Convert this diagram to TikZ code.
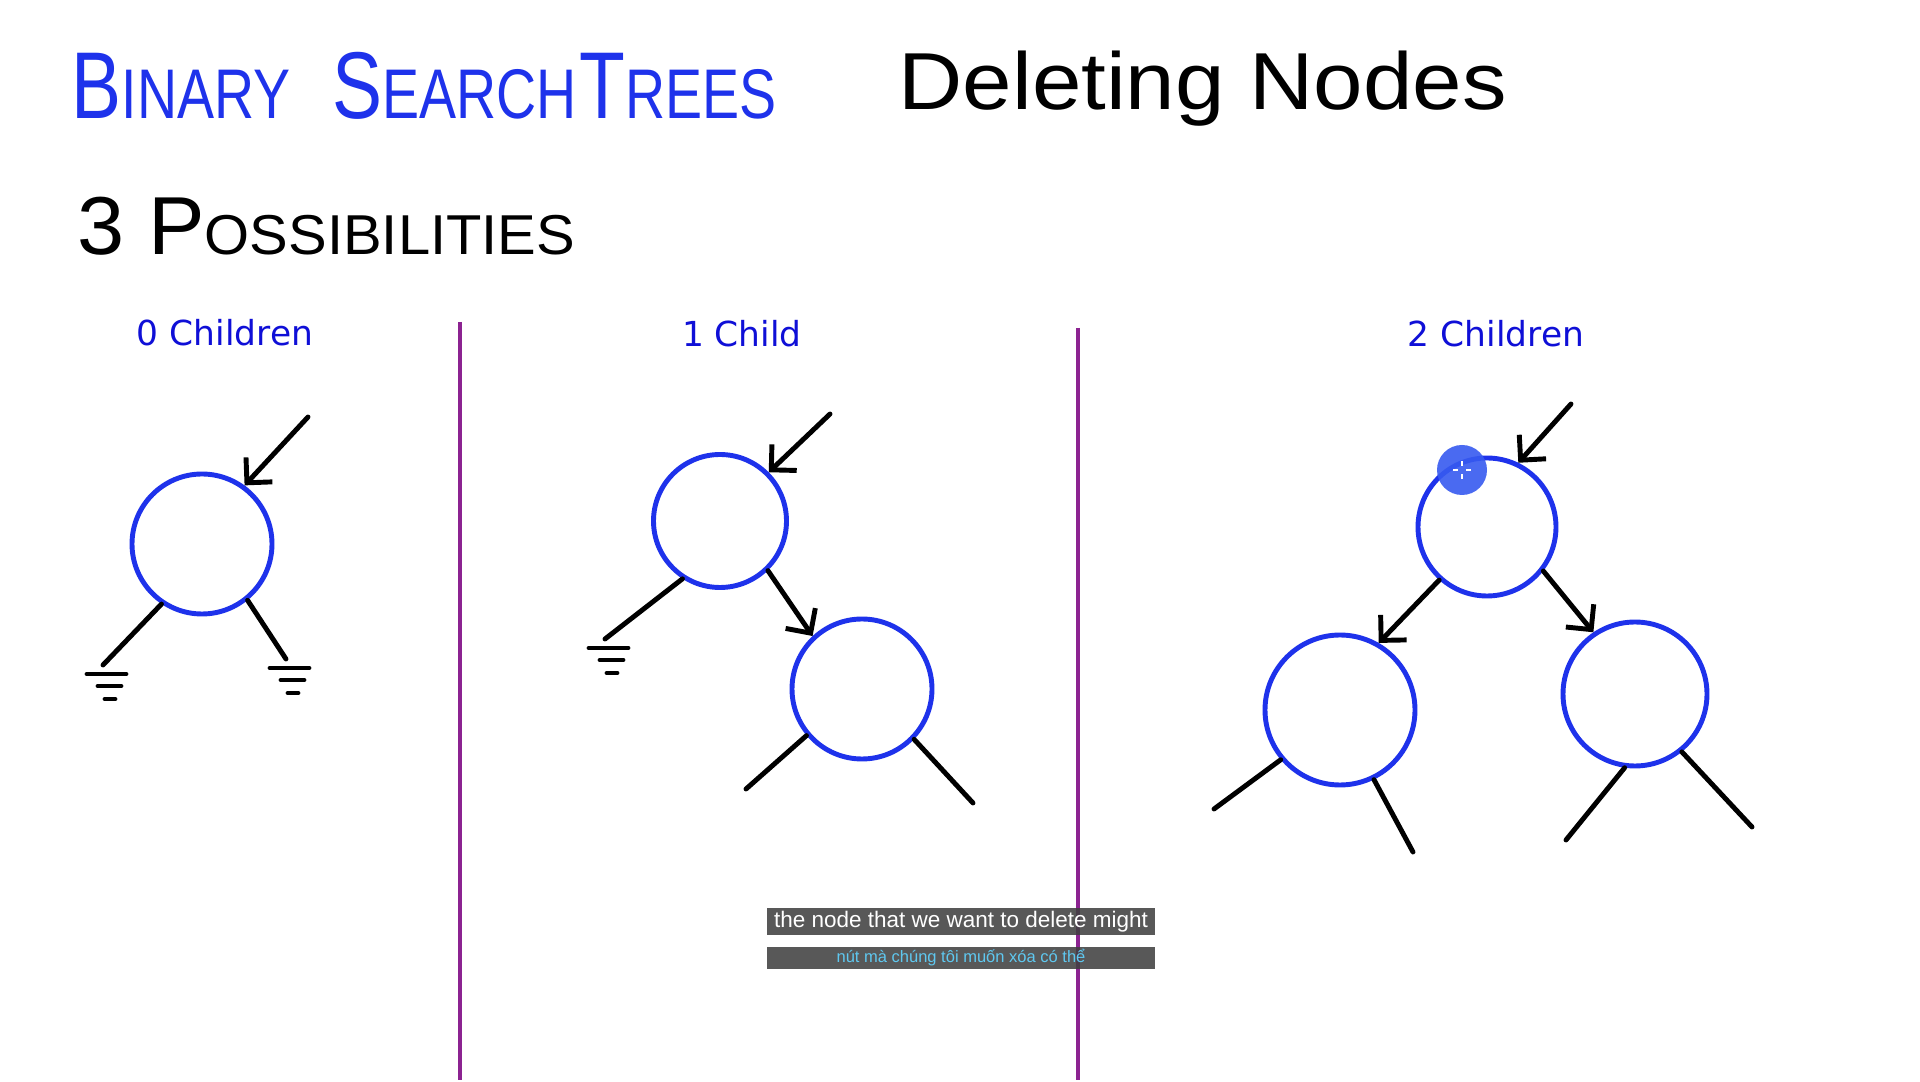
\documentclass[tikz,border=0pt]{standalone}
\usepackage{fontspec}
\setmainfont{Liberation Sans}
\newfontfamily\etiq{DejaVu Sans}
\usepackage{graphicx}
\usepackage{xcolor}
\usepackage{tikz}
\usetikzlibrary{arrows.meta}
\definecolor{azul}{RGB}{30,50,235}
\definecolor{azuloscuro}{RGB}{15,15,215}
\definecolor{morado}{RGB}{140,35,145}
\definecolor{celeste}{RGB}{95,200,240}
\definecolor{puntero}{RGB}{55,90,240}
\newcommand{\grande}[2]{{\fontsize{#1}{#1}\selectfont #2}}
\tikzset{
  nodo/.style={circle, draw=azul, line width=1.4pt, inner sep=0pt, minimum size=#1},
  rama/.style={black, line width=1.4pt, line cap=round},
  flecha/.style={rama, -{Straight Barb[length=1.8mm, width=3.6mm]}},
  separador/.style={morado, line width=0.9pt},
  etiqueta/.style={azuloscuro, font=\etiq\fontsize{9.8}{11}\selectfont, anchor=base, inner sep=0pt},
  subtitulo/.style={fill=black!75, fill opacity=0.87, text opacity=1, inner sep=0pt, minimum width=38.8mm},
  tierra/.pic={\draw[rama] (-16,9) -- (23,9) (-5,21) -- (18,21) (2,34) -- (12,34);},
}

\begin{document}
\begin{tikzpicture}[x=0.1mm, y=-0.1mm]
  \fill[white] (0,0) rectangle (1920,1080);
  \node[azul, anchor=base west, inner sep=0pt, font=\fontsize{20}{20}\selectfont] (titulo) at (71,119)
    {\scalebox{0.79}[1]{\grande{27pt}{B}INARY\hspace{15pt}\grande{27pt}{S}EARCH\hspace{1pt}\grande{27pt}{T}REES}};
  \node[anchor=base west, inner sep=0pt, font=\fontsize{23}{24}\selectfont] (tema) at (898,110)
    {\scalebox{1.1}[1]{Deleting Nodes}};
  \node[anchor=base west, inner sep=0pt, font=\fontsize{16}{16}\selectfont] (casos) at (77,255)
    {\scalebox{1.03}[1]{\grande{23.4pt}{3 P}OSSIBILITIES}};
  \node[etiqueta] (l0) at (225,346) {0 Children};
  \node[etiqueta] (l1) at (742,347) {1 Child};
  \node[etiqueta] (l2) at (1496,347) {2 Children};
  \draw[separador] (460,322) -- (460,1080);
  \draw[separador] (1078,328) -- (1078,1080);

  % 0 hijos
  \node[nodo=14mm] (a) at (202,544) {};
  \coordinate (a0) at (308,417);
  \coordinate (a1) at (103,665);
  \coordinate (a2) at (286,659);
  \draw[flecha] (a0) -- (a.54);
  \draw[rama] (a.236) -- (a1); \draw[rama] (a.309) -- (a2);
  \pic at (a1) {tierra}; \pic at (a2) {tierra};

  % 1 hijo
  \node[nodo=13.3mm] (b) at (720,521) {};
  \node[nodo=14mm] (c) at (862,689) {};
  \coordinate (b0) at (830,414);
  \coordinate (b1) at (605,639);
  \coordinate (c1) at (746,789);
  \coordinate (c2) at (973,803);
  \draw[flecha] (b0) -- (b.45);
  \draw[rama] (b.237) -- (b1); \pic at (b1) {tierra};
  \draw[flecha] (b.314) -- (c.133);
  \draw[rama] (c.220) -- (c1); \draw[rama] (c.316) -- (c2);

  % 2 hijos
  \node[nodo=13.8mm] (d) at (1487,527) {};
  \node[nodo=15mm] (e) at (1340,710) {};
  \node[nodo=14.4mm] (f) at (1635,694) {};
  \coordinate (d0) at (1571,404);
  \coordinate (e1) at (1214,809);
  \coordinate (e2) at (1413,852);
  \coordinate (f1) at (1566,840);
  \coordinate (f2) at (1752,827);
  \draw[flecha] (d0) -- (d.64);
  \draw[flecha] (d.228) -- (e.60);
  \draw[flecha] (d.322) -- (f.124);
  \draw[rama] (e.220) -- (e1); \draw[rama] (e.296) -- (e2);
  \draw[rama] (f.262) -- (f1); \draw[rama] (f.309) -- (f2);

  \fill[puntero, opacity=0.9] (1462,470) circle (25);
  \draw[white, line width=0.5pt] (1462,461) -- (1462,466) (1462,474) -- (1462,479)
    (1453,470) -- (1458,470) (1466,470) -- (1471,470);

  \node[subtitulo, minimum height=2.7mm, text=white, font=\fontsize{6.4}{7}\selectfont] (sub1) at (961,922)
    {the node that we want to delete might};
  \node[subtitulo, minimum height=2.2mm, text=celeste, font=\fontsize{4.7}{5}\selectfont] (sub2) at (961,958)
    {nút mà chúng tôi muốn xóa có thể};
\end{tikzpicture}
\end{document}
